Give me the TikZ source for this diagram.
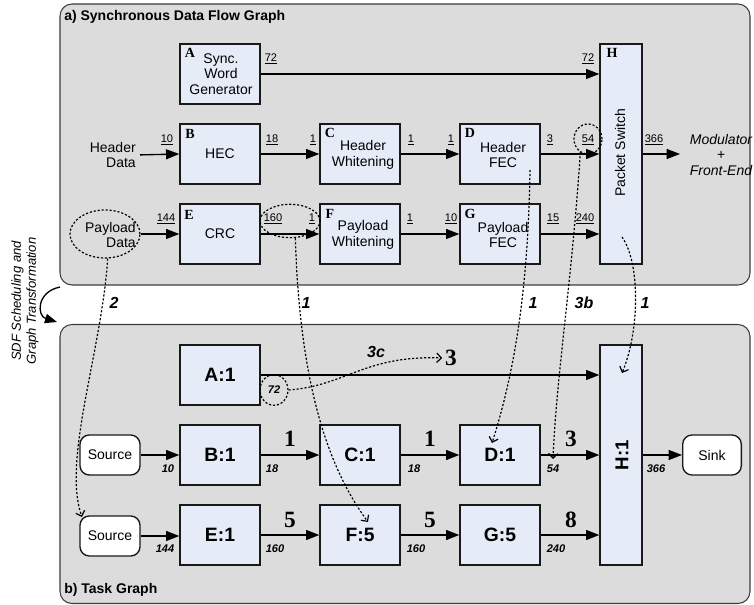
\documentclass[tikz,border=0pt]{standalone}
\usepackage{fontspec}
\setmainfont{Liberation Sans}
\newfontfamily\serifb{Liberation Serif}
\usetikzlibrary{arrows.meta,shapes.geometric}
\definecolor{panelgray}{RGB}{220,220,220}
\definecolor{boxblue}{RGB}{230,236,247}
\definecolor{edgegray}{RGB}{60,60,60}
\begin{document}
\begin{tikzpicture}[x=0.75pt,y=-0.75pt,
  panel/.style={draw=edgegray,fill=panelgray,line width=0.8pt,rounded corners=9pt,inner sep=0pt},
  blk/.style={draw=black!90,fill=boxblue,line width=1pt,minimum width=60pt,minimum height=45pt,inner sep=0pt},
  tall/.style={blk,minimum width=31.5pt,minimum height=165pt},
  term/.style={draw=black!90,fill=white,line width=1pt,rounded corners=7pt,minimum width=45pt,minimum height=30pt,inner sep=0pt,font=\fontsize{10.5}{12}\selectfont},
  flow/.style={line width=1pt,-{Triangle[length=10pt,width=7.5pt]}},
  dep/.style={line width=0.9pt,dash pattern=on 1.6pt off 1.4pt,-{Straight Barb[length=3.5pt,width=7pt]}},
  dring/.style={draw=black,line width=0.9pt,dash pattern=on 1.6pt off 1.4pt,ellipse,inner sep=0pt},
  rate/.style={font=\fontsize{8.3}{9}\selectfont,inner sep=0pt},
  brate/.style={font=\fontsize{8.3}{9}\selectfont\bfseries\itshape,inner sep=0pt},
  big/.style={font=\fontsize{17.5}{18}\selectfont\serifb\bfseries,inner sep=0pt},
  tag/.style={font=\fontsize{10.5}{12}\selectfont\serifb\bfseries,inner sep=0pt},
  txt/.style={font=\fontsize{10.5}{11.8}\selectfont,align=center,inner sep=0pt},
  task/.style={blk,font=\fontsize{14.5}{16}\selectfont\bfseries},
  depl/.style={font=\fontsize{12}{13}\selectfont\bfseries\itshape,inner sep=0pt},
  ttl/.style={font=\fontsize{10.5}{12}\selectfont\bfseries,inner sep=0pt,anchor=west},
]
\useasboundingbox (0,0) rectangle (754,605);
% panels
\node[panel,minimum width=517.5pt,minimum height=210.75pt] (pa) at (405,144.5) {};
\node[panel,minimum width=517.5pt,minimum height=209.25pt] (pb) at (405,464) {};
\node[ttl] (ta) at (64,17) {a) Synchronous Data Flow Graph};
\node[ttl] (tb) at (64,590) {b) Task Graph};

% ---------- top: SDF graph ----------
\node[blk] (A) at (220,74) {};
\node[blk] (B) at (220,154) {};
\node[blk] (C) at (360,154) {};
\node[blk] (D) at (500,154) {};
\node[blk] (E) at (220,234) {};
\node[blk] (F) at (360,234) {};
\node[blk] (G) at (500,234) {};
\node[tall] (H) at (621,154) {};

\node[txt] (Atx) at (221,74) {Sync.\\Word\\Generator};
\node[txt] (Btx) at (220,154) {HEC};
\node[txt] (Ctx) at (363,155) {Header\\Whitening};
\node[txt] (Dtx) at (503,155) {Header\\FEC};
\node[txt] (Etx) at (220,234) {CRC};
\node[txt] (Ftx) at (363,235) {Payload\\Whitening};
\node[txt] (Gtx) at (503,235) {Payload\\FEC};
\node[txt,rotate=90] (Htx) at (620,153) {Packet Switch};

\node[tag] (Atag) at (190,53) {A};
\node[tag] (Btag) at (190,134) {B};
\node[tag] (Ctag) at (330,133) {C};
\node[tag] (Dtag) at (470,133) {D};
\node[tag] (Etag) at (189,215) {E};
\node[tag] (Ftag) at (330,214) {F};
\node[tag] (Gtag) at (470,214) {G};
\node[tag] (Htag) at (612,53) {H};

\node[txt,align=right,anchor=east] (hdr) at (136,155) {Header\\Data};
\node[txt,align=right,anchor=east] (pdat) at (136,235) {Payload\\Data};
\node[font=\fontsize{10.5}{11.3}\selectfont\itshape,align=center,inner sep=0pt] (mod) at (721,155) {Modulator\\+\\Front-End};
\coordinate (modin) at (680,154);

\node[dring,minimum width=52.5pt,minimum height=36pt] (pell) at (105,234) {};
\node[dring,minimum width=45pt,minimum height=25pt] (e160) at (290,221) {};
\node[dring,minimum width=21pt,minimum height=22.5pt] (c54) at (588,139) {};

\draw[flow] (A.east) -- (A.east -| H.west);
\draw[flow,shorten <=3pt] (hdr.east) -- (B.west);
\draw[flow] (B) -- (C);
\draw[flow] (C) -- (D);
\draw[flow] (D.east) -- (D.east -| H.west);
\draw[flow] (H.east) -- (modin);
\draw[flow] (pell.east) -- (E.west);
\draw[flow] (E) -- (F);
\draw[flow] (F) -- (G);
\draw[flow] (G.east) -- (G.east -| H.west);

\node[rate] (rA) at (271,59) {\underline{72}};
\node[rate] (rH1) at (588,59) {\underline{72}};
\node[rate] (rB1) at (167,140) {\underline{10}};
\node[rate] (rB2) at (272,140) {\underline{18}};
\node[rate] (rC1) at (313,140) {\underline{1}};
\node[rate] (rC2) at (411,140) {\underline{1}};
\node[rate] (rD1) at (451,140) {\underline{1}};
\node[rate] (rD2) at (550,140) {\underline{3}};
\node[rate] (rH2) at (588,140) {\underline{54}};
\node[rate] (rH3) at (654,140) {\underline{366}};
\node[rate] (rE1) at (166,219) {\underline{144}};
\node[rate] (rE2) at (273,219) {\underline{160}};
\node[rate] (rF1) at (312,219) {\underline{1}};
\node[rate] (rF2) at (410,219) {\underline{1}};
\node[rate] (rG1) at (451,219) {\underline{10}};
\node[rate] (rG2) at (553,219) {\underline{15}};
\node[rate] (rH4) at (585,219) {\underline{240}};

% transition arrow
\node[font=\fontsize{9.8}{11.2}\selectfont\itshape,align=center,rotate=90,inner sep=0pt] (sdf) at (25,301) {SDF Scheduling and\\Graph Transformation};
\coordinate (tra) at (60,287);
\coordinate (trb) at (57,322);
\draw[line width=1pt,-{Triangle[length=9pt,width=7pt]}] (tra) .. controls (36,292) and (37,316) .. (trb);

% ---------- bottom: task graph ----------
\node[task] (A1) at (220,375) {A:1};
\node[task] (B1) at (220,455) {B:1};
\node[task] (C1) at (360,455) {C:1};
\node[task] (D1) at (500,455) {D:1};
\node[task] (E1) at (220,535) {E:1};
\node[task] (F1) at (360,535) {F:5};
\node[task] (G1) at (500,535) {G:5};
\node[tall] (H1) at (621,455) {};
\node[font=\fontsize{14}{16}\selectfont\bfseries,rotate=90,inner sep=0pt] (H1tx) at (622,455) {H:1};
\node[term] (S1) at (110,455) {Source};
\node[term] (S2) at (110,536) {Source};
\node[term,minimum width=44pt] (SK) at (712,455) {Sink};

\draw[flow] (A1.east) -- (A1.east -| H1.west);
\draw[flow] (S1) -- (B1);
\draw[flow] (B1) -- (C1);
\draw[flow] (C1) -- (D1);
\draw[flow] (D1) -- (D1 -| H1.west);
\draw[flow] (H1.east |- SK) -- (SK);
\draw[flow] (S2.east) -- (S2.east -| E1.west);
\draw[flow] (E1) -- (F1);
\draw[flow] (F1) -- (G1);
\draw[flow] (G1.east) -- (G1.east -| H1.west);

\node[brate] (b1) at (168,469) {10};
\node[brate] (b2) at (272,469) {18};
\node[brate] (b3) at (414,469) {18};
\node[brate] (b4) at (553,469) {54};
\node[brate] (b5) at (656,469) {366};
\node[brate] (b6) at (165,549) {144};
\node[brate] (b7) at (275,549) {160};
\node[brate] (b8) at (416,549) {160};
\node[brate] (b9) at (556,549) {240};

\node[big] (n1) at (290,439) {1};
\node[big] (n2) at (430,439) {1};
\node[big] (n3) at (571,439) {3};
\node[big] (n4) at (290,520) {5};
\node[big] (n5) at (430,520) {5};
\node[big] (n6) at (571,520) {8};
\node[big] (n3c) at (451,358) {3};

\node[dring,minimum width=21pt,minimum height=23pt] (c72) at (274,390) {};
\node[brate] (b72) at (274,390) {72};

% ---------- dependency arrows ----------
\coordinate (t2) at (82,517);
\draw[dep] ([xshift=2pt]pell.south) .. controls (102,350) and (62,460) .. (t2);
\node[depl] (l2) at (114,303) {2};

\coordinate (tF) at (368,522);
\draw[dep] ([xshift=4pt]e160.south) .. controls (300,390) and (330,470) .. (tF);
\node[depl] (l1a) at (306,303) {1};

\coordinate (sD) at (530,170);
\coordinate (tD) at (492,443);
\draw[dep] (sD) .. controls (528,300) and (512,380) .. (tD);
\node[depl] (l1b) at (533,303) {1};

\coordinate (t3b) at (553,459);
\draw[dep] (c54.240) .. controls (572,280) and (556,380) .. (t3b);
\node[depl] (l3b) at (584,303) {3b};

\coordinate (sH) at (622,237);
\coordinate (tH) at (622,373);
\draw[dep] (sH) .. controls (640,262) and (640,330) .. (tH);
\node[depl] (l1c) at (645,303) {1};

\draw[dep] (c72.east) .. controls (345,386) and (365,355) .. ([xshift=-2pt]n3c.west);
\node[depl] (l3c) at (376,352) {3c};
\end{tikzpicture}
\end{document}
